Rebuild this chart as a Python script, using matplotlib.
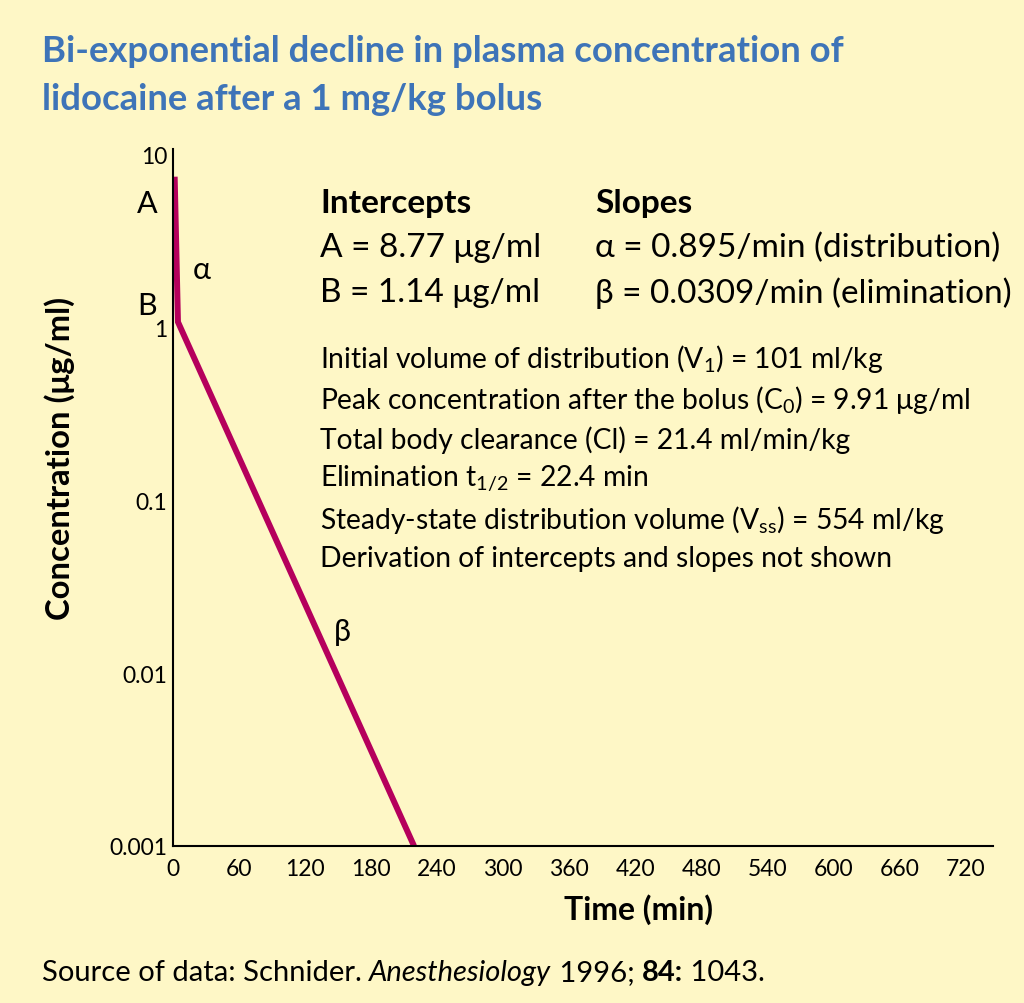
import matplotlib
matplotlib.use("Agg")
import matplotlib.pyplot as plt
from matplotlib.ticker import FixedLocator, FixedFormatter

# ---- data ----
time_min = [1.5, 4.5, 219]
conc = [7.4, 1.07, 0.001]
x_ticks = [0, 60, 120, 180, 240, 300, 360, 420, 480, 540, 600, 660, 720]
y_ticks = [0.001, 0.01, 0.1, 1, 10]
y_tick_labels = ["0.001", "0.01", "0.1", "1", "10"]

FONT = ["Lato", "DejaVu Sans"]
plt.rcParams["font.family"] = FONT
plt.rcParams["mathtext.fontset"] = "custom"
plt.rcParams["mathtext.rm"] = "Lato"
plt.rcParams["mathtext.it"] = "Lato:italic"
plt.rcParams["mathtext.bf"] = "Lato:bold"

BG = "#FEF7C6"
BLUE = "#3E74B8"
LINE = "#B5005C"

fig = plt.figure(figsize=(10.24, 10.04), dpi=100, facecolor=BG)
W, H = 1024, 1004
ax = fig.add_axes([173 / W, 1 - 847 / H, (993 - 173) / W, (847 - 150) / H])
ax.set_facecolor(BG)
ax.plot(time_min, conc, color=LINE, lw=4.3, solid_capstyle="butt", solid_joinstyle="miter")
ax.set_yscale("log")
ax.set_xlim(0, 745)
ax.set_ylim(0.001, 10.7)
ax.xaxis.set_major_locator(FixedLocator(x_ticks))
ax.yaxis.set_major_locator(FixedLocator(y_ticks))
ax.yaxis.set_major_formatter(FixedFormatter(y_tick_labels))
ax.yaxis.set_minor_locator(FixedLocator([]))
ax.tick_params(axis="both", length=0, labelsize=16.5, colors="black")
ax.tick_params(axis="x", pad=9)
ax.tick_params(axis="y", pad=4)
for s in ["top", "right"]:
    ax.spines[s].set_visible(False)
for s in ["left", "bottom"]:
    ax.spines[s].set_linewidth(1.5)

fig.text(638 / W, 1 - 910 / H, "Time (min)", fontsize=23, fontweight="bold",
         ha="center", va="center")
fig.text(60 / W, 1 - 458 / H, "Concentration (μg/ml)", rotation=90, fontsize=23.6,
         fontweight="bold", ha="center", va="center")

# title
fig.text(42 / W, 1 - 52 / H, "Bi-exponential decline in plasma concentration of",
         fontsize=26.3, fontweight="bold", color=BLUE, va="center")
fig.text(42 / W, 1 - 100 / H, "lidocaine after a 1 mg/kg bolus",
         fontsize=26.3, fontweight="bold", color=BLUE, va="center")

# curve labels
fs_lab = 22
fig.text(147 / W, 1 - 204 / H, "A", fontsize=fs_lab, ha="center", va="center")
fig.text(147 / W, 1 - 306 / H, "B", fontsize=fs_lab, ha="center", va="center")
fig.text(202 / W, 1 - 270 / H, "α", fontsize=fs_lab, ha="center", va="center")
fig.text(342 / W, 1 - 632 / H, "β", fontsize=fs_lab, ha="center", va="center")

# info block
fs = 24
x1, x2 = 320 / W, 595 / W
fig.text(x1, 1 - 203 / H, "Intercepts", fontsize=fs, fontweight="bold", va="center")
fig.text(x2, 1 - 203 / H, "Slopes", fontsize=fs, fontweight="bold", va="center")
fig.text(x1, 1 - 248 / H, "A = 8.77 μg/ml", fontsize=fs, va="center")
fig.text(x2, 1 - 248 / H, "α = 0.895/min (distribution)", fontsize=fs, va="center")
fig.text(x1, 1 - 293 / H, "B = 1.14 μg/ml", fontsize=fs, va="center")
fig.text(x2, 1 - 293 / H, "β = 0.0309/min (elimination)", fontsize=fs, va="center")

fs2 = 20.3
lines = [
    (359, r"Initial volume of distribution (V$_1$) = 101 ml/kg"),
    (400, r"Peak concentration after the bolus (C$_0$) = 9.91 μg/ml"),
    (440, r"Total body clearance (Cl) = 21.4 ml/min/kg"),
    (479, r"Elimination t$_{1/2}$ = 22.4 min"),
    (520, r"Steady-state distribution volume (V$_{\mathrm{ss}}$) = 554 ml/kg"),
    (559, r"Derivation of intercepts and slopes not shown"),
]
for yy, s in lines:
    fig.text(x1, 1 - yy / H, s, fontsize=fs2, va="center")

# source (pieces placed one after another)
fig.canvas.draw()
renderer = fig.canvas.get_renderer()
pieces = [("Source of data: Schnider. ", "normal", "normal"),
          ("Anesthesiology", "italic", "normal"),
          (" 1996; ", "normal", "normal"),
          ("84:", "normal", "bold"),
          (" 1043.", "normal", "normal")]
xp = 42
for txt, style, weight in pieces:
    t = fig.text(xp / W, 1 - 973 / H, txt, fontsize=21, va="center",
                 style=style, fontweight=weight)
    bb = t.get_window_extent(renderer)
    xp = bb.x1

fig.savefig("out.png", dpi=100, facecolor=BG)
